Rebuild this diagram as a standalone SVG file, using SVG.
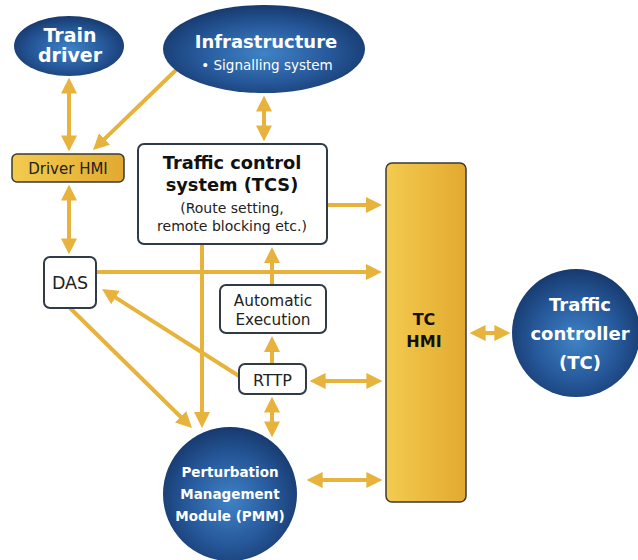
<svg xmlns="http://www.w3.org/2000/svg" width="638" height="560" viewBox="0 0 638 560">
<defs>
<radialGradient id="blue" cx="50%" cy="55%" r="55%">
<stop offset="0" stop-color="#3F83C6"/>
<stop offset="0.6" stop-color="#26589A"/>
<stop offset="1" stop-color="#173A6E"/>
</radialGradient>
<linearGradient id="gold" x1="0" y1="0" x2="1" y2="0">
<stop offset="0" stop-color="#F3CB4F"/>
<stop offset="1" stop-color="#E2A92F"/>
</linearGradient>
<marker id="ah" viewBox="0 0 10 10" refX="6" refY="5" markerWidth="16" markerHeight="16" markerUnits="userSpaceOnUse" orient="auto-start-reverse">
<path d="M0,0 L10,5 L0,10 z" fill="#E8B33C"/>
</marker>
<style>
.c{stroke:#E8B33C;stroke-width:4;fill:none}
.one{marker-end:url(#ah)}
.two{marker-start:url(#ah);marker-end:url(#ah)}
.box{fill:#fff;stroke:#2F3B46;stroke-width:2}
.goldbox{fill:url(#gold);stroke:#3A3A32;stroke-width:1.5}
.blue{fill:url(#blue)}
text{font-family:"DejaVu Sans",Verdana,sans-serif;text-anchor:middle}
.w{fill:#fff;font-weight:bold}
.d{fill:#222}
.db{fill:#111;font-weight:bold}
</style>
</defs>
<g id="connectors">
<line class="c two" x1="69" y1="84" x2="69" y2="145"/>
<line class="c one" x1="176" y1="70" x2="97.6" y2="145.6"/>
<line class="c two" x1="264" y1="102" x2="264" y2="135"/>
<line class="c two" x1="69" y1="191" x2="69" y2="248"/>
<line class="c one" x1="327" y1="205" x2="375.6" y2="205"/>
<line class="c one" x1="96" y1="272" x2="375.6" y2="272"/>
<line class="c one" x1="272" y1="285" x2="272" y2="253.4"/>
<line class="c one" x1="272" y1="364" x2="272" y2="342.4"/>
<line class="c two" x1="272" y1="403" x2="272" y2="431"/>
<line class="c two" x1="316" y1="381" x2="376" y2="381"/>
<line class="c one" x1="239" y1="376" x2="107.4" y2="292.4"/>
<line class="c one" x1="202" y1="245" x2="202" y2="421.6"/>
<line class="c one" x1="70" y1="308" x2="187.4" y2="423.5"/>
<line class="c two" x1="313" y1="480" x2="376" y2="480"/>
<line class="c two" x1="476" y1="333" x2="504" y2="333"/>
</g>
<g id="train-driver">
<ellipse class="blue" cx="69" cy="46" rx="55" ry="30"/>
<text class="w" x="70" y="42" font-size="19">Train</text>
<text class="w" x="70" y="62" font-size="19">driver</text>
</g>
<g id="infrastructure">
<ellipse class="blue" cx="264" cy="49" rx="101" ry="44"/>
<text class="w" x="266" y="48" font-size="18">Infrastructure</text>
<text x="267" y="70" font-size="13.5" fill="#fff">• Signalling system</text>
</g>
<g id="driver-hmi">
<rect class="goldbox" x="12" y="154" width="112" height="28" rx="5"/>
<text class="d" x="68" y="173.5" font-size="15">Driver HMI</text>
</g>
<g id="tcs">
<rect class="box" x="138" y="144" width="189" height="100" rx="6"/>
<text class="db" x="232" y="169" font-size="17.8">Traffic control</text>
<text class="db" x="232" y="191" font-size="17.8">system (TCS)</text>
<text class="d" x="232" y="213" font-size="14">(Route setting,</text>
<text class="d" x="232" y="231" font-size="14">remote blocking etc.)</text>
</g>
<g id="das">
<rect class="box" x="44" y="257" width="52" height="51" rx="6"/>
<text class="d" x="70" y="289" font-size="17.5">DAS</text>
</g>
<g id="automatic-execution">
<rect class="box" x="220" y="285" width="106" height="48" rx="6"/>
<text class="d" x="273" y="306" font-size="15.3">Automatic</text>
<text class="d" x="273" y="325" font-size="15.3">Execution</text>
</g>
<g id="rttp">
<rect class="box" x="239" y="364" width="67" height="30" rx="6"/>
<text class="d" x="272.5" y="385.5" font-size="16">RTTP</text>
</g>
<g id="pmm">
<circle class="blue" cx="230" cy="494" r="67"/>
<text class="w" x="230" y="477" font-size="13.5">Perturbation</text>
<text class="w" x="230" y="499" font-size="13.5">Management</text>
<text class="w" x="230" y="521" font-size="13.5">Module (PMM)</text>
</g>
<g id="tc-hmi">
<rect class="goldbox" x="386" y="163" width="80" height="339" rx="6"/>
<text class="db" x="424" y="325" font-size="16">TC</text>
<text class="db" x="424" y="347" font-size="16">HMI</text>
</g>
<g id="traffic-controller">
<circle class="blue" cx="576" cy="333" r="64"/>
<text class="w" x="580" y="311" font-size="18">Traffic</text>
<text class="w" x="580" y="340" font-size="18">controller</text>
<text class="w" x="580" y="369" font-size="18">(TC)</text>
</g>
</svg>
